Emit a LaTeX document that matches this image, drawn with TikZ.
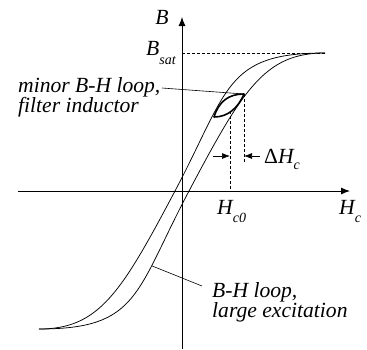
\documentclass[tikz,border=0pt]{standalone}
\usepackage{fontspec}
\setmainfont{Liberation Serif}
\usetikzlibrary{arrows.meta}
\newcommand\lowsub[2]{\raisebox{-#1}{\fontsize{14}{14}\selectfont #2}}
\begin{document}
\begin{tikzpicture}[x=1pt,y=-1pt,
  lbl/.style={inner sep=0pt, font=\fontsize{21.6}{20}\selectfont\itshape},
  axis/.style={line width=0.9pt, -{Latex[length=9pt,width=7pt]}},
  curve/.style={line width=0.75pt},
  guide/.style={line width=0.7pt, dash pattern=on 3pt off 2pt},
  leader/.style={line width=0.6pt},
  minorloop/.style={line width=1.6pt, line join=round},
  dim/.style={line width=0.7pt, -{Latex[length=8pt,width=6pt]}}]
\useasboundingbox (0,0) rectangle (367,349);
% axes
\coordinate (O) at (182,191);
\coordinate (ytop) at (182,17);
\coordinate (ybot) at (182,349);
\coordinate (xl) at (18,191);
\coordinate (xr) at (350,191);
\draw[axis] (ybot) -- (ytop);
\draw[axis] (xl) -- (xr);
% saturation points and zero crossings
\coordinate (sp) at (325,53);
\coordinate (sn) at (39,329);
\coordinate (r0) at (189,191);
\coordinate (l0) at (175,191);
% B_sat dashed line
\draw[guide] (sp -| O) -- (sp);
% large loop: ascending (right) branch
\draw[curve] (sn) .. controls (139,329) and (135,293) .. (r0)
  .. controls (243,89) and (265,53) .. (sp);
\path (r0) .. controls (135,293) and (139,329) .. coordinate[pos=0.3] (bc) (sn);
% descending (left) branch
\draw[curve] (sn) .. controls (99,329) and (121,293) .. (l0)
  .. controls (229,89) and (225,53) .. (sp);
% minor loop
\coordinate (mA) at (214,117);
\coordinate (mC) at (244,94);
\draw[minorloop] (mA) .. controls (219,101) and (229,94) .. (mC)
  .. controls (238,108) and (228,117) .. (mA) -- cycle;
% dashed verticals
\coordinate (hc0top) at (230,111);
\coordinate (hc0) at (230,191);
\coordinate (hrbot) at (244,162);
\draw[guide] (hc0top) -- (hc0);
\draw[guide] (mC) -- (hrbot);
% delta H arrows
\coordinate (dl) at (213,156);
\coordinate (dlt) at (230,156);
\coordinate (dr) at (260,156);
\coordinate (drt) at (244,156);
\draw[dim] (dl) -- (dlt);
\draw[dim] (dr) -- (drt);
% labels
\node[lbl, anchor=base] (Blab) at (162,24.5) {B};
\node[lbl, anchor=base west] (Bsat) at (146,55) {B\lowsub{9pt}{sat}};
\node[lbl, anchor=base west] (Hc0) at (217,214) {H\lowsub{8pt}{c0}};
\node[lbl, anchor=base west] (Hc) at (339,214.5) {H\lowsub{8pt}{c}};
\node[lbl, anchor=base west] (dHc) at (264,163) {{\upshape Δ}H\lowsub{6pt}{c}};
\node[lbl, anchor=base west] (m1) at (18,92) {minor B-H loop,};
\node[lbl, anchor=base west] (m2) at (18,112) {filter inductor};
\node[lbl, anchor=base west] (b1) at (212,297) {B-H loop,};
\node[lbl, anchor=base west] (b2) at (212,317) {large excitation};
% leaders
\coordinate (ml) at (162,88);
\coordinate (bl) at (202,286);
\draw[leader] (ml) -- (mC);
\draw[leader] (bl) -- (bc);
\end{tikzpicture}
\end{document}
